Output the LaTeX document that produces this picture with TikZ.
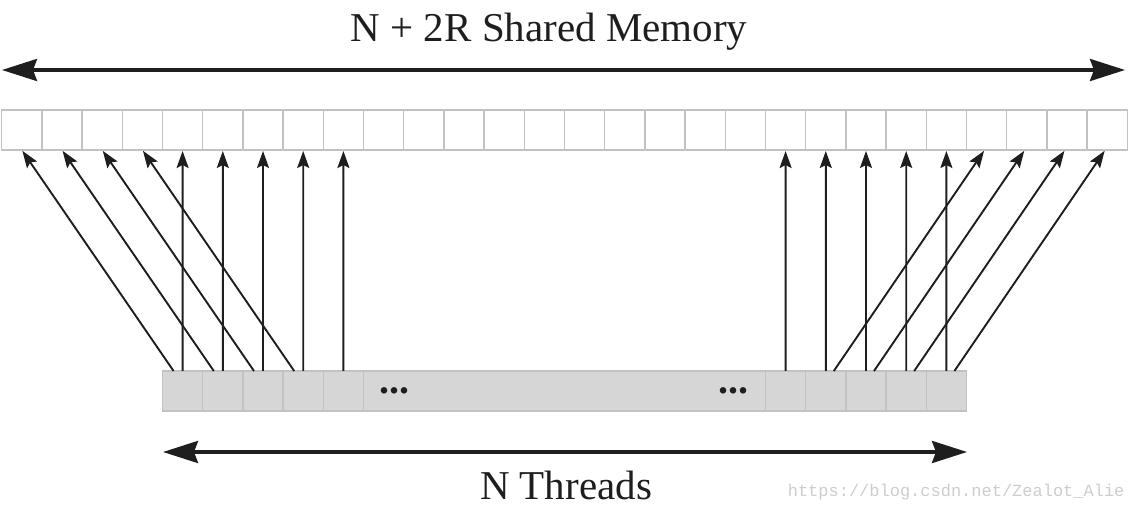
\documentclass[tikz,border=0pt]{standalone}
\usepackage{fontspec}
\setmainfont{Liberation Serif}
\newfontfamily\markfont{Liberation Mono}
\usepackage{tikz}
\usetikzlibrary{positioning,arrows.meta,calc}
\definecolor{cellgray}{RGB}{194,194,194}
\definecolor{thrgray}{RGB}{214,214,214}
\definecolor{markgray}{RGB}{205,205,205}
\definecolor{ink}{RGB}{30,30,30}
\tikzset{memcell/.style={draw=cellgray,line width=1.5pt,fill=white,minimum width=40.2pt,minimum height=40pt,inner sep=0pt,outer sep=0pt},
         thrcell/.style={memcell,fill=thrgray},
         line/.style={draw=ink,line width=1.9pt,shorten >=1pt,-{Stealth[length=17pt,width=12pt,inset=3pt]}},
         captext/.style={text=ink,font=\fontsize{41}{49}\selectfont},
         dots/.style={inner sep=0pt,text=ink,font=\bfseries\fontsize{40}{44}\selectfont}
}
\tikzstyle{span} = [draw=ink,line width=3.6pt,{Stealth[length=35pt,width=22pt,inset=4pt]}-{Stealth[length=35pt,width=22pt,inset=4pt]}]

\begin{document}
\begin{tikzpicture}[x=1pt,y=-1pt]
\useasboundingbox (0,0) rectangle (1138,510);

\node[memcell] (m0) at (21.8,130) {};
\foreach \i [remember=\i as \prev (initially 0)] in {1,...,27}
  \node[memcell,right=0pt of m\prev] (m\i) {};

\node[thrcell] (l0) at (182.6,391) {};
\node[thrcell,right=0pt of l0] (l1) {};
\node[thrcell,right=0pt of l1] (l2) {};
\node[thrcell,right=0pt of l2] (l3) {};
\node[thrcell,right=0pt of l3] (l4) {};
\node[thrcell,minimum width=402pt,right=0pt of l4] (gap) {};
\node[thrcell,right=0pt of gap] (r0) {};
\node[thrcell,right=0pt of r0] (r1) {};
\node[thrcell,right=0pt of r1] (r2) {};
\node[thrcell,right=0pt of r2] (r3) {};
\node[thrcell,right=0pt of r3] (r4) {};
\node[dots,right=16pt of gap.west] (dotsl) {...};
\node[dots,left=17pt of gap.east] (dotsr) {...};

\node[captext,anchor=base] (title) at (549,42) {N + 2R Shared Memory};
\node[captext,anchor=base] (threads) at (566,499) {N Threads};
\node[anchor=base east,text=markgray,font=\markfont\fontsize{17}{20}\selectfont] (mark) at (1128,496) {https://blog.csdn.net/Zealot\_Alie};

\coordinate (meml) at (2,70);
\coordinate (memr) at (1125,70);
\coordinate (thrl) at (163,452);
\coordinate (thrr) at (967,452);
\draw[span] (meml)--(memr);
\draw[span] (thrl)--(thrr);

\foreach \a/\b in {l0/m4,l1/m5,l2/m6,l3/m7,l4/m8,r0/m19,r1/m20,r2/m21,r3/m22,r4/m23}
  \draw[line] (\a.north)--(\b.south);
\foreach \a/\b in {l0/m0,l1/m1,l2/m2,l3/m3}
  \draw[line] ([xshift=-9pt]\a.north)--(\b.south);
\foreach \a/\b in {r1/m24,r2/m25,r3/m26,r4/m27}
  \draw[line] ([xshift=8pt]\a.north)--([xshift=-2pt]\b.south);

\end{tikzpicture}
\end{document}
